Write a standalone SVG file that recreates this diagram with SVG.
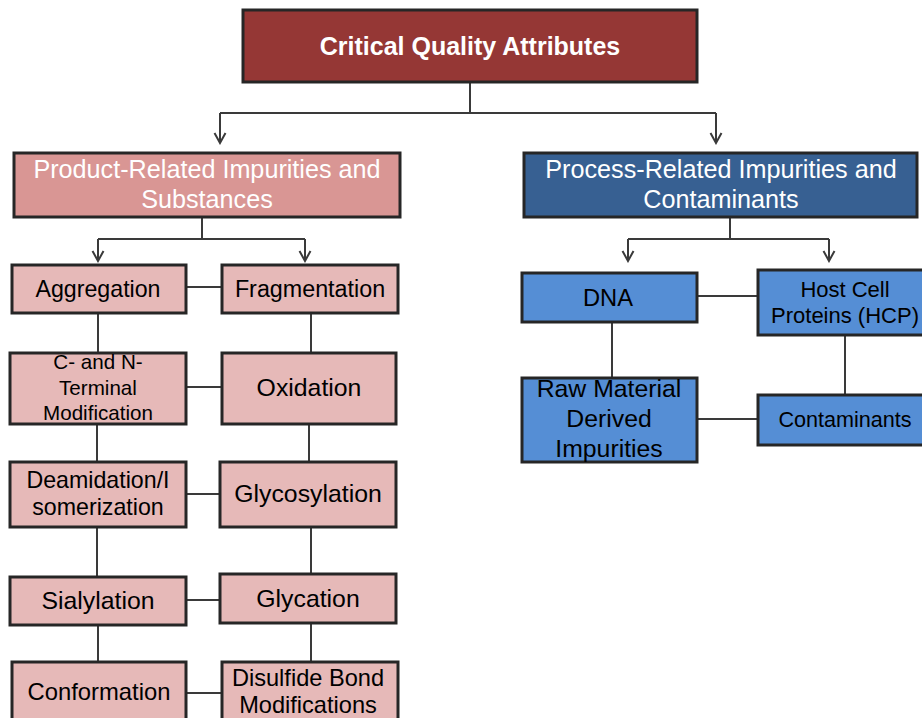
<svg xmlns="http://www.w3.org/2000/svg" width="922" height="718" viewBox="0 0 922 718">
  <style>
    text { font-family: "Liberation Sans", Arial, sans-serif; text-anchor: middle; }
    .box { stroke: #262626; stroke-width: 3; }
    .title { fill: #953735; }
    .prod-h { fill: #D99694; }
    .prod { fill: #E6B9B8; }
    .proc-h { fill: #376092; }
    .proc { fill: #558ED5; }
    .wt { fill: #ffffff; }
    .bk { fill: #000000; }
    .link { fill: none; stroke: #3a3a3a; stroke-width: 2; }
  </style>
  <defs>
    <marker id="chev" markerUnits="userSpaceOnUse" markerWidth="14" markerHeight="14" viewBox="-12 -7 14 14" refX="0" refY="0" orient="auto">
      <path d="M-10,-5.5 L0,0 L-10,5.5" fill="none" stroke="#3a3a3a" stroke-width="2"/>
    </marker>
  </defs>

  <rect width="922" height="718" fill="#ffffff"/>

  <!-- connectors -->
  <g id="connectors" class="link">
    <path d="M470,82 V113"/>
    <path d="M220,113 V143" marker-end="url(#chev)"/>
    <path d="M716,113 V143" marker-end="url(#chev)"/>
    <path d="M220,113 H716"/>

    <path d="M202,217 V239"/>
    <path d="M98,239 H305"/>
    <path d="M98,239 V261" marker-end="url(#chev)"/>
    <path d="M305,239 V261" marker-end="url(#chev)"/>

    <path d="M730,217 V239"/>
    <path d="M628,239 H829"/>
    <path d="M628,239 V261" marker-end="url(#chev)"/>
    <path d="M829,239 V261" marker-end="url(#chev)"/>

    <path d="M186,287 H222"/>
    <path d="M98,313 V352"/>
    <path d="M311,313 V352"/>
    <path d="M186,387 H222"/>
    <path d="M97,424 V462"/>
    <path d="M309,424 V462"/>
    <path d="M186,494 H220"/>
    <path d="M97,527 V577"/>
    <path d="M311,527 V574"/>
    <path d="M186,600 H220"/>
    <path d="M98,625 V662"/>
    <path d="M311,623 V662"/>
    <path d="M186,693 H222"/>

    <path d="M697,296 H758"/>
    <path d="M612,322 V378"/>
    <path d="M845,335 V395"/>
    <path d="M697,419 H758"/>
  </g>

  <g id="cqa">
    <rect class="box title" x="243" y="10" width="454" height="72"/>
    <text class="wt" x="470" y="55" font-size="25" font-weight="bold">Critical Quality Attributes</text>
  </g>

  <g id="product-related">
    <rect class="box prod-h" x="14" y="153" width="386" height="64"/>
    <text class="wt" x="207" y="178" font-size="25.2">Product-Related Impurities and</text>
    <text class="wt" x="207" y="208" font-size="25.2">Substances</text>
  </g>

  <g id="process-related">
    <rect class="box proc-h" x="524" y="153" width="393" height="64"/>
    <text class="wt" x="721" y="178" font-size="25.2">Process-Related Impurities and</text>
    <text class="wt" x="721" y="208" font-size="25.2">Contaminants</text>
  </g>

  <g id="aggregation">
    <rect class="box prod" x="12" y="265" width="174" height="48"/>
    <text class="bk" x="98" y="297" font-size="23.2">Aggregation</text>
  </g>
  <g id="fragmentation">
    <rect class="box prod" x="222" y="265" width="176" height="48"/>
    <text class="bk" x="310" y="297" font-size="23.3">Fragmentation</text>
  </g>

  <g id="terminal-modification">
    <rect class="box prod" x="10" y="353" width="176" height="71"/>
    <text class="bk" x="98" y="369" font-size="20.6">C- and N-</text>
    <text class="bk" x="98" y="395" font-size="20.6">Terminal</text>
    <text class="bk" x="98" y="420" font-size="20.6">Modification</text>
  </g>
  <g id="oxidation">
    <rect class="box prod" x="222" y="353" width="174" height="71"/>
    <text class="bk" x="309" y="396" font-size="24.8">Oxidation</text>
  </g>

  <g id="deamidation">
    <rect class="box prod" x="10" y="462" width="176" height="65"/>
    <text class="bk" x="98" y="488" font-size="23.2">Deamidation/I</text>
    <text class="bk" x="98" y="515" font-size="23.2">somerization</text>
  </g>
  <g id="glycosylation">
    <rect class="box prod" x="220" y="462" width="176" height="65"/>
    <text class="bk" x="308" y="502" font-size="24.8">Glycosylation</text>
  </g>

  <g id="sialylation">
    <rect class="box prod" x="10" y="577" width="176" height="48"/>
    <text class="bk" x="98" y="609" font-size="24.8">Sialylation</text>
  </g>
  <g id="glycation">
    <rect class="box prod" x="220" y="574" width="176" height="49"/>
    <text class="bk" x="308" y="607" font-size="24.8">Glycation</text>
  </g>

  <g id="conformation">
    <rect class="box prod" x="12" y="662" width="174" height="70"/>
    <text class="bk" x="99" y="700" font-size="23.8">Conformation</text>
  </g>
  <g id="disulfide">
    <rect class="box prod" x="222" y="662" width="176" height="70"/>
    <text class="bk" x="308" y="686" font-size="23.6">Disulfide Bond</text>
    <text class="bk" x="308" y="713" font-size="23.6">Modifications</text>
  </g>

  <g id="dna">
    <rect class="box proc" x="522" y="273" width="175" height="49"/>
    <text class="bk" x="608" y="306" font-size="23.7">DNA</text>
  </g>
  <g id="hcp">
    <rect class="box proc" x="758" y="270" width="180" height="65"/>
    <text class="bk" x="845" y="297" font-size="22">Host Cell</text>
    <text class="bk" x="845" y="323" font-size="22">Proteins (HCP)</text>
  </g>
  <g id="raw-material">
    <rect class="box proc" x="522" y="378" width="175" height="84"/>
    <text class="bk" x="609" y="397" font-size="24.8">Raw Material</text>
    <text class="bk" x="609" y="427" font-size="24.8">Derived</text>
    <text class="bk" x="609" y="457" font-size="24.8">Impurities</text>
  </g>
  <g id="contaminants">
    <rect class="box proc" x="758" y="395" width="180" height="50"/>
    <text class="bk" x="845" y="427" font-size="21.6">Contaminants</text>
  </g>
</svg>
